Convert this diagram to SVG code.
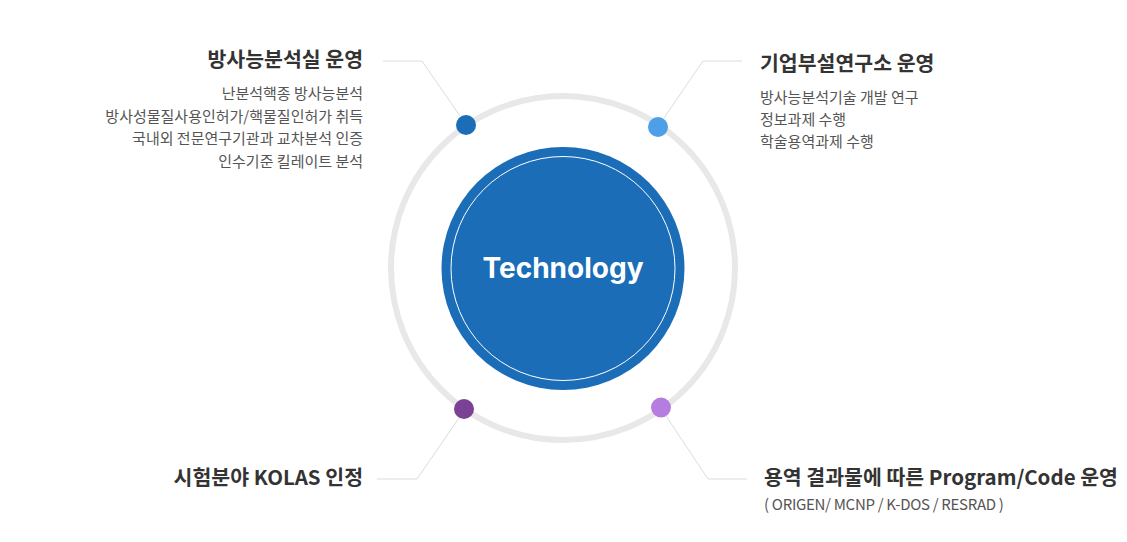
<svg xmlns="http://www.w3.org/2000/svg" width="1127" height="542" viewBox="0 0 1127 542">
<style>
.title{font-family:"Noto Sans CJK KR","Noto Sans",sans-serif;font-weight:700;font-size:20.5px;fill:#333333}
.sub{font-family:"Noto Sans CJK KR","Noto Sans",sans-serif;font-weight:400;font-size:15px;fill:#555555}
.conn{fill:none;stroke:#dcdcdc;stroke-width:1}
.r{text-anchor:end}
</style>
<rect width="1127" height="542" fill="#ffffff"/>
<g id="ring">
<circle cx="563" cy="268" r="172" fill="none" stroke="#e8e8e8" stroke-width="6"/>
</g>
<g id="connectors">
<polyline class="conn" points="383,61 422,61 460,116"/>
<polyline class="conn" points="742,61 703,61 664,118"/>
<polyline class="conn" points="377,479 417,479 459,418"/>
<polyline class="conn" points="747,479 708,479 666,416"/>
</g>
<g id="center">
<circle cx="563" cy="268.5" r="121.5" fill="#1a6db6"/>
<circle cx="563" cy="268.5" r="112" fill="none" stroke="#ffffff" stroke-width="1"/>
<text x="563" y="278" text-anchor="middle" font-family="Inter,'Open Sans',sans-serif" font-weight="700" font-size="28" fill="#ffffff">Technology</text>
</g>
<g id="node-lab">
<circle cx="466" cy="125" r="10" fill="#1a6db6"/>
<text class="title r" x="363" y="67">방사능분석실 운영</text>
<text class="sub r" x="363" y="99">난분석핵종 방사능분석</text>
<text class="sub r" x="363" y="122">방사성물질사용인허가/핵물질인허가 취득</text>
<text class="sub r" x="363" y="144">국내외 전문연구기관과 교차분석 인증</text>
<text class="sub r" x="363" y="167">인수기준 킬레이트 분석</text>
</g>
<g id="node-research">
<circle cx="658" cy="127" r="10" fill="#4d9fe8"/>
<text class="title" x="760" y="71">기업부설연구소 운영</text>
<text class="sub" x="760" y="103">방사능분석기술 개발 연구</text>
<text class="sub" x="760" y="125">정보과제 수행</text>
<text class="sub" x="760" y="147">학술용역과제 수행</text>
</g>
<g id="node-kolas">
<circle cx="464" cy="409" r="10" fill="#7b4194"/>
<text class="title r" x="363" y="485">시험분야 KOLAS 인정</text>
</g>
<g id="node-code">
<circle cx="661" cy="407.5" r="10" fill="#b47ddf"/>
<text class="title" x="764" y="485">용역 결과물에 따른 Program/Code 운영</text>
<text class="sub" x="764" y="510" letter-spacing="-0.3">( ORIGEN/ MCNP / K-DOS / RESRAD )</text>
</g>
</svg>
